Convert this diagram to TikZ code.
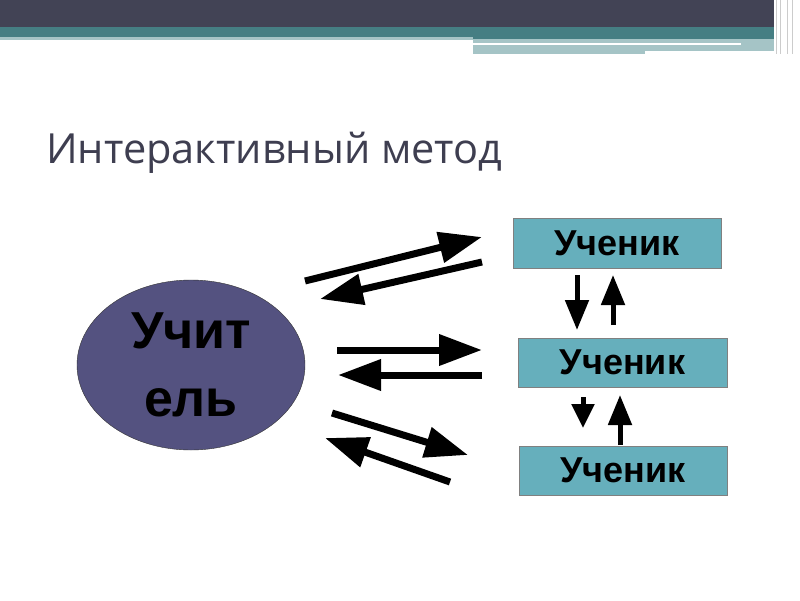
\documentclass[tikz,border=0pt]{standalone}
\usepackage{fontspec}
\setmainfont{Liberation Sans}
\newfontfamily\titlefont{Open Sans}
\usetikzlibrary{arrows.meta,shapes.geometric}
\definecolor{hdrdark}{RGB}{66,67,85}
\definecolor{hdrteal}{RGB}{69,126,131}
\definecolor{hdrlight}{RGB}{165,196,198}
\definecolor{titlegray}{RGB}{62,62,80}
\definecolor{teachblue}{RGB}{84,82,128}
\definecolor{pupilteal}{RGB}{102,175,188}

\begin{document}
\begin{tikzpicture}[x=1pt,y=-1pt,
 pupil/.style={draw=gray,fill=pupilteal,minimum height=50pt,inner sep=0pt,font=\bfseries\fontsize{36}{36}\selectfont},
 big/.style={line width=7pt,-{Triangle[length=43pt,width=30pt]}},
 small/.style={line width=5pt,-{Triangle[length=30pt,width=23pt]}}]
\useasboundingbox (0,0) rectangle (800,600);
% header bars
\fill[hdrdark] (0,0) rectangle (774,27);
\fill[hdrteal] (0,27) rectangle (774,37);
\fill[hdrteal] (473,37) rectangle (774,39);
\fill[hdrlight] (0,37) rectangle (473,40);
\fill[hdrlight] (473,39) rectangle (774,51);
\fill[hdrlight] (473,45) rectangle (645,54);
\fill[white] (473,43) rectangle (741,45);
\foreach \x in {776,780,787,792} \draw[gray!40,line width=1pt] (\x,0) -- (\x,54);
% title
\node[anchor=base west,inner sep=0pt,text=titlegray,font=\titlefont\fontsize{41.5}{42}\selectfont] (title) at (46,163) {Интерактивный метод};
% teacher and pupils
\node[ellipse,draw=black!80,fill=teachblue,minimum width=228pt,minimum height=170pt,inner sep=0pt,
 align=center,font=\bfseries\fontsize{52}{68}\selectfont] (teacher) at (191,365) {Учит\\ель};
\node[pupil,minimum width=208pt] (p1) at (617,243) {Ученик};
\node[pupil,minimum width=209pt,minimum height=49pt] (p2) at (622.5,362.5) {Ученик};
\node[pupil,minimum width=208pt,minimum height=49pt] (p3) at (623,470.5) {Ученик};
% arrow ends
\coordinate (a1) at (305,281); \coordinate (b1) at (482,237);
\coordinate (a2) at (482,262); \coordinate (b2) at (320,299);
\coordinate (a3) at (337,350); \coordinate (b3) at (482,350);
\coordinate (a4) at (482,375); \coordinate (b4) at (338,375);
\coordinate (a5) at (332,413); \coordinate (b5) at (468,455);
\coordinate (a6) at (450,482); \coordinate (b6) at (325,438);
\coordinate (d1) at (577,275); \coordinate (e1) at (577,330);
\coordinate (d2) at (613,325); \coordinate (e2) at (613,275);
\coordinate (d3) at (583,397); \coordinate (e3) at (583,428);
\coordinate (d4) at (620,445); \coordinate (e4) at (620,395);
\draw[big] (a1) -- (b1);
\draw[big] (a2) -- (b2);
\draw[big] (a3) -- (b3);
\draw[big] (a4) -- (b4);
\draw[big] (a5) -- (b5);
\draw[big] (a6) -- (b6);
% between pupils
\draw[small] (d1) -- (e1);
\draw[small] (d2) -- (e2);
\draw[small,-{Triangle[length=24pt,width=22pt]}] (d3) -- (e3);
\draw[small] (d4) -- (e4);
\end{tikzpicture}
\end{document}
